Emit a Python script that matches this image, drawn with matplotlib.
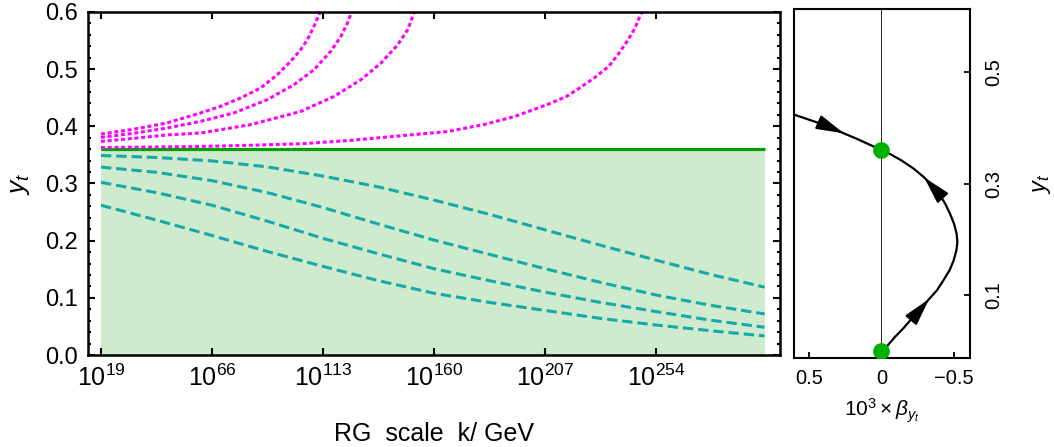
import matplotlib.pyplot as plt
from matplotlib.ticker import MultipleLocator

plt.rcParams['font.family'] = ['Liberation Sans', 'DejaVu Sans']
plt.rcParams['mathtext.fontset'] = 'custom'
plt.rcParams['mathtext.rm'] = 'Liberation Sans'
plt.rcParams['mathtext.it'] = 'Liberation Sans:italic'
plt.rcParams['mathtext.bf'] = 'Liberation Sans:bold'

# RG time axis: log10(k / GeV)
log_k_range = [19, 300]
y_star = 0.36

# trajectories starting above the fixed point (run into a Landau pole)
up1_k = [19, 33, 47, 61.1, 69.6, 78.1, 86.6, 93.7, 99.3, 103.6, 106.4, 109.2, 111.8]
up1_y = [0.3865, 0.395, 0.406, 0.4233, 0.4349, 0.4496, 0.4671, 0.4904, 0.5137,
         0.5342, 0.5517, 0.575, 0.600]
up2_k = [19, 33, 47, 61.1, 75.2, 89.4, 100.7, 109.2, 116.3, 120.6, 123.4, 125.1]
up2_y = [0.3806, 0.388, 0.397, 0.4086, 0.4233, 0.4466, 0.4729, 0.4991, 0.5312,
         0.5575, 0.5809, 0.600]
up3_k = [19, 33, 47, 61.1, 82.3, 103.6, 117.7, 129.1, 137.6, 144.7, 148.9, 151.7]
up3_y = [0.3736, 0.379, 0.385, 0.3883, 0.4028, 0.4261, 0.4524, 0.4816, 0.5109,
         0.5429, 0.5692, 0.600]
up4_k = [19, 40, 61, 82, 104, 125, 146, 166, 181, 194, 208, 216, 222, 228,
         234, 238, 242, 245, 248]
up4_y = [0.363, 0.3638, 0.3648, 0.3668, 0.3695, 0.3755, 0.3835, 0.391, 0.403,
         0.417, 0.438, 0.452, 0.468, 0.485, 0.505, 0.526, 0.550, 0.571, 0.600]
up_k = [up1_k, up2_k, up3_k, up4_k]
up_y = [up1_y, up2_y, up3_y, up4_y]

# trajectories starting below the fixed point (asymptotically free)
down_k = [19, 42.5, 66, 89.5, 113, 136.5, 160, 183.5, 207, 230.5, 254, 277, 300]
down1_y = [0.349, 0.3455, 0.3395, 0.329, 0.313, 0.294, 0.271, 0.246, 0.219,
           0.192, 0.166, 0.141, 0.1186]
down2_y = [0.3287, 0.3195, 0.305, 0.284, 0.258, 0.229, 0.201, 0.176, 0.151,
           0.127, 0.105, 0.087, 0.0718]
down3_y = [0.302, 0.284, 0.262, 0.234, 0.204, 0.177, 0.151, 0.130, 0.110,
           0.092, 0.076, 0.061, 0.0485]
down4_y = [0.262, 0.236, 0.209, 0.181, 0.155, 0.130, 0.108, 0.092, 0.078,
           0.064, 0.0525, 0.0425, 0.0333]
down_y = [down1_y, down2_y, down3_y, down4_y]

x_tick_exp = [19, 66, 113, 160, 207, 254]
y_ticks = [0.0, 0.1, 0.2, 0.3, 0.4, 0.5, 0.6]

# beta function of y_t (in units of 1e-3), from the top edge down to y_t = 0
flow_yt = [0.425, 0.410, 0.398, 0.390, 0.380, 0.370, 0.36, 0.352, 0.341, 0.327,
           0.311, 0.297, 0.282, 0.265, 0.246, 0.228, 0.21, 0.195, 0.18, 0.162,
           0.145, 0.128, 0.109, 0.093, 0.073, 0.057, 0.0405, 0.025, 0.0077, 0.0]
flow_beta = [0.62, 0.45, 0.33, 0.26, 0.169, 0.085, 0.0, -0.065, -0.14, -0.22,
             -0.294, -0.345, -0.395, -0.437, -0.472, -0.50, -0.518, -0.523,
             -0.516, -0.497, -0.470, -0.43, -0.383, -0.328, -0.262, -0.205,
             -0.150, -0.092, -0.035, -0.01]
arrow_idx = [(2, 3), (12, 10), (24, 23)]
fixed_yt = [0.0, y_star]
beta_ticks = [0.5, 0.0, -0.5]
beta_labels = ['0.5', '0', '\u22120.5']
yt_ticks = [0.1, 0.3, 0.5]

magenta = '#ff00ff'
teal = '#17a9a9'
green = '#00a000'
fill_green = '#ceebce'

fig = plt.figure(figsize=(10.54, 4.47), dpi=100)
ax = fig.add_axes([0.0835, 0.2058, 0.6565, 0.7674])
ax2 = fig.add_axes([0.7533, 0.1991, 0.1670, 0.7800])

# left: running of y_t
ax.fill_between(log_k_range, 0, y_star, color=fill_green, lw=0)
ax.plot(log_k_range, [y_star, y_star], color=green, lw=2.3, solid_capstyle='butt')
for ks, ys in zip(up_k, up_y):
    ax.plot(ks, ys, color=magenta, lw=2.2, dashes=(1.3, 0.9))
for ys in down_y:
    ax.plot(down_k, ys, color=teal, lw=2.2, dashes=(3.4, 1.6))

ax.set_xlim(13.5, 306.5)
ax.set_ylim(0, 0.6)
ax.set_xticks(x_tick_exp)
ax.set_xticklabels([r'$\mathregular{10^{%d}}$' % e for e in x_tick_exp])
ax.set_yticks(y_ticks)
ax.set_yticklabels(['%.1f' % v for v in y_ticks])
ax.yaxis.set_minor_locator(MultipleLocator(0.02))
ax.tick_params(which='both', direction='in', top=True, right=True, width=1.5)
ax.tick_params(axis='y', labelsize=17)
ax.tick_params(axis='x', labelsize=18)
ax.tick_params(which='major', length=5, pad=7)
ax.tick_params(which='minor', length=2.5)
for s in ax.spines.values():
    s.set_linewidth(1.8)
ax.set_xlabel('RG  scale  k/ GeV', fontsize=18, labelpad=22)
ax.set_ylabel(r'$y_t$', fontsize=19, labelpad=10)

# right: beta function, rotated
ax2.axvline(0, color='black', lw=0.6)
ax2.plot(flow_beta, flow_yt, color='black', lw=1.6)
for i, j in arrow_idx:
    ax2.annotate('', xy=(flow_beta[j], flow_yt[j]),
                 xytext=(flow_beta[i], flow_yt[i]),
                 arrowprops=dict(arrowstyle='-|>,head_length=0.75,head_width=0.2',
                                 color='black', lw=1.6, mutation_scale=22,
                                 shrinkA=0, shrinkB=0))
ax2.plot([0.0, 0.0], fixed_yt, 'o', color='#00b000', ms=11, zorder=5)

ax2.set_xlim(0.603, -0.61)
ax2.set_ylim(-0.0125, 0.612)
ax2.set_xticks(beta_ticks)
ax2.set_xticklabels(beta_labels)
ax2.yaxis.tick_right()
ax2.set_yticks(yt_ticks)
ax2.set_yticklabels(['%.1f' % v for v in yt_ticks], rotation=90, va='center')
ax2.tick_params(direction='in', labelsize=14.5, length=4, width=1.3)
ax2.tick_params(axis='x', pad=8)
ax2.tick_params(axis='y', pad=10, left=False)
for s in ax2.spines.values():
    s.set_linewidth(1.5)
ax2.yaxis.set_label_position('right')
ax2.set_ylabel(r'$y_t$', fontsize=17, rotation=90, labelpad=20)
ax2.set_xlabel(r'$10^3\times\beta_{y_t}$', fontsize=15, labelpad=6)

fig.savefig('out.png', dpi=100)
